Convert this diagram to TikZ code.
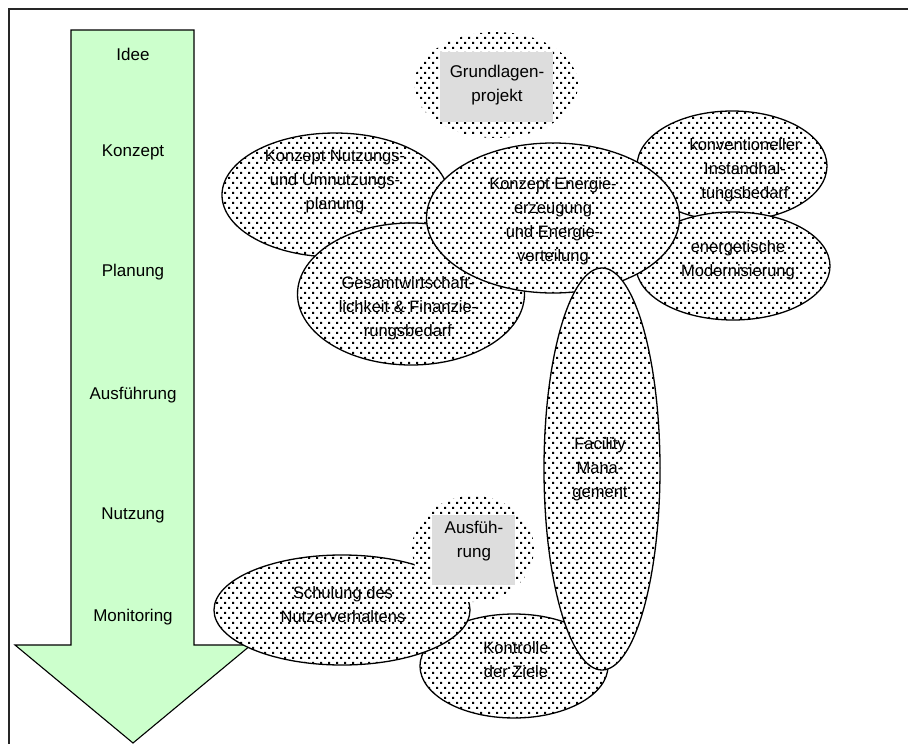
\documentclass[tikz,border=0pt]{standalone}
\usepackage{fontspec}
\setmainfont{Liberation Sans}
\usetikzlibrary{shapes.geometric,patterns}
\pgfdeclarepatternformonly{sqdots}{\pgfqpoint{-1pt}{-1pt}}{\pgfqpoint{9pt}{11pt}}{\pgfqpoint{8pt}{10pt}}{%
  \pgfpathrectangle{\pgfqpoint{0pt}{0pt}}{\pgfqpoint{2pt}{2pt}}%
  \pgfpathrectangle{\pgfqpoint{4pt}{5pt}}{\pgfqpoint{2pt}{2pt}}%
  \pgfusepath{fill}}
\definecolor{arrowgreen}{HTML}{CCFFCC}
\definecolor{boxgrey}{HTML}{DDDDDD}
\tikzset{
  blob/.style={ellipse, draw=black, line width=1.3pt, inner sep=0pt,
    preaction={fill=white}, pattern=sqdots, pattern color=black},
  haze/.style={ellipse, draw=none, inner sep=0pt,
    preaction={fill=white}, pattern=sqdots, pattern color=black},
  greybox/.style={rectangle, fill=boxgrey, draw=none, inner sep=0pt},
  lbl/.style={align=center, font=\fontsize{16.5}{24}\selectfont, inner sep=0pt},
  albl/.style={font=\fontsize{17}{20}\selectfont, inner sep=0pt},
}
\begin{document}
\begin{tikzpicture}[x=1pt,y=-1pt]
\useasboundingbox (0,0) rectangle (908,744);
\begin{scope}
\clip (0,0) rectangle (908,744);
\draw[line width=1.4pt, black!85] (9,9) rectangle (920,760);
\end{scope}
% big arrow
\draw[fill=arrowgreen, line width=1.1pt, line join=miter]
  (71,30) -- (194,30) -- (194,645) -- (251,645) -- (133,743) -- (15,645) -- (71,645) -- cycle;
\node[albl] (a1) at (133,54) {Idee};
\node[albl] (a2) at (133,152) {Konzept};
\node[albl] (a3) at (133,272) {Planung};
\node[albl] (a4) at (133,395) {Ausführung};
\node[albl] (a5) at (133,515) {Nutzung};
\node[albl] (a6) at (133,617) {Monitoring};
% ellipses
\node[blob, minimum width=226pt, minimum height=124pt] (nutz) at (335,195) {};
\node[blob, minimum width=227pt, minimum height=142pt] (gesamt) at (411,294) {};
\node[blob, minimum width=190pt, minimum height=110pt] (konv) at (732,166) {};
\node[blob, minimum width=194pt, minimum height=108pt] (energ) at (733,266) {};
\node[blob, minimum width=253pt, minimum height=150pt] (energie) at (553,218) {};
\node[blob, minimum width=188pt, minimum height=104pt] (kontr) at (514,666) {};
\node[blob, minimum width=116pt, minimum height=402pt] (fm) at (602,469) {};
\node[blob, minimum width=256pt, minimum height=110pt] (schul) at (342,610) {};
\node[haze, minimum width=122pt, minimum height=106pt] (ausfh) at (473,549) {};
\node[greybox, minimum width=83pt, minimum height=70pt] (ausfb) at (473.5,550) {};
\node[haze, minimum width=164pt, minimum height=106pt] (grundh) at (496,85) {};
\node[greybox, minimum width=113pt, minimum height=70pt] (grundb) at (496.5,87) {};
% labels
\node[lbl] (nutzt) at (335,182) {Konzept Nutzungs-\\und Umnutzungs-\\planung};
\node[lbl] (gesamtt) at (408,308) {Gesamtwirtschaft-\\lichkeit \& Finanzie-\\rungsbedarf};
\node[lbl] (konvt) at (745,170) {konventioneller\\Instandhal-\\tungsbedarf};
\node[lbl] (energt) at (738,260) {energetische\\Modernisierung};
\node[lbl] (energiet) at (553,221) {Konzept Energie-\\erzeugung\\und Energie-\\verteilung};
\node[lbl] (kontrt) at (516,660) {Kontrolle\\der Ziele};
\node[lbl] (fmt) at (600,469) {Facility\\Mana-\\gement};
\node[lbl] (schult) at (343,605) {Schulung des\\Nutzerverhaltens};
\node[lbl, font=\fontsize{17}{24}\selectfont] (ausft) at (474,541) {Ausfüh-\\rung};
\node[lbl, font=\fontsize{17}{24}\selectfont] (grundt) at (497,85) {Grundlagen-\\projekt};
\end{tikzpicture}
\end{document}
